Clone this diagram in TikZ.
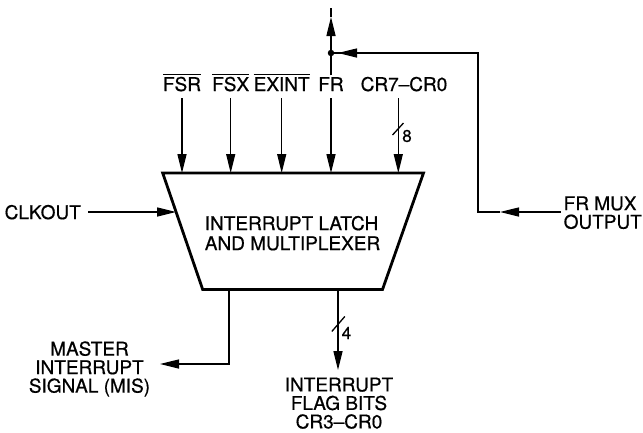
\documentclass[tikz,border=0pt]{standalone}
\usepackage{fontspec}
\setmainfont{TeX Gyre Heros}[FakeBold=0.6]
\usetikzlibrary{arrows.meta,calc}
\newcommand\ovl[1]{\vbox{\hrule height 1.2pt\kern1.8pt\hbox{#1}}}
\begin{document}
\begin{tikzpicture}[x=1pt,y=1pt,
  lbl/.style={inner sep=0pt, text depth=0pt, font=\fontsize{19}{18.5}\selectfont},
  num/.style={inner sep=0pt, font=\fontsize{17}{18}\selectfont},
  wire/.style={line width=1.3pt},
  arr/.style={wire, -{Triangle[length=19pt,width=9pt]}},
  box/.style={line width=2.8pt, line join=miter},
]
\useasboundingbox (0,0) rectangle (643,-432);
% block
\coordinate (tl) at (162.7,-173);
\coordinate (tr) at (423.5,-173);
\coordinate (br) at (382.5,-289.5);
\coordinate (bl) at (202.7,-289.5);
\draw[box] (tl) -- (tr) -- (br) -- (bl) -- cycle;
\node[lbl, align=left, font=\fontsize{19}{20}\selectfont] (core) at (292.5,-233) {INTERRUPT LATCH\\AND MULTIPLEXER};
% top inputs
\node[lbl, anchor=base] (fsr) at (182,-91) {\ovl{FSR}};
\node[lbl, anchor=base] (fsx) at (230.7,-91) {\ovl{FSX}};
\node[lbl, anchor=base] (exint) at (281.7,-91) {\ovl{EXINT}};
\node[lbl, anchor=base] (fr) at (331,-91) {FR};
\node[lbl, anchor=base] (cr) at (404,-91) {CR7–CR0};
\coordinate (incr) at (398.3,-173);
\draw[arr, shorten <=7pt] (fsr.south) -- (fsr.south |- tl);
\draw[arr, shorten <=7pt] (fsx.south) -- (fsx.south |- tl);
\draw[arr, shorten <=7pt] (exint.south) -- (exint.south |- tl);
\draw[arr, shorten <=7pt] (fr.south) -- (fr.south |- tl);
\draw[arr, shorten <=7pt] (incr |- cr.south) -- (incr);
\coordinate (s8) at (398,-129);
\draw[wire] ($(s8)+(-5.5,-6)$) -- ($(s8)+(5.5,6)$);
\node[num] (n8) at (407,-136) {8};
% FR output upward
\node[circle, fill, inner sep=0pt, minimum size=6.5pt] (dot) at (331,-53) {};
\coordinate (uptip) at (331,-17);
\coordinate (uptop) at (331,-8);
\draw[wire, shorten <=1.5pt] (fr.north) -- (dot);
\draw[arr] (dot) -- (uptip);
\draw[wire] (uptip) -- (uptop);
% FR MUX feedback
\node[lbl, align=left, anchor=west] (mux) at (563.5,-212.5) {FR MUX\\OUTPUT};
\coordinate (muxa) at (500,-212);
\coordinate (fbc2) at (478,-212);
\coordinate (fbc1) at (478,-53);
\coordinate (fba) at (338,-53);
\draw[arr, shorten <=3pt] (mux.west |- muxa) -- (muxa);
\draw[wire] (muxa) -- (fbc2) -- (fbc1) -- (dot.center);
\draw[arr] (fbc1) -- (fba);
% CLKOUT
\node[lbl, anchor=east] (clk) at (81,-212) {CLKOUT};
\coordinate (clkin) at ($(tl)!0.333!(bl)$);
\draw[arr, shorten <=7pt] (clk.east) -- (clk.east -| clkin);
% MIS
\coordinate (misout) at (229,-289.5);
\coordinate (mistip) at (160,-364);
\node[lbl, align=center] (mis) at (89.5,-367) {MASTER\\INTERRUPT\\SIGNAL (MIS)};
\draw[arr] (misout) |- (mistip);
% flag bits
\coordinate (flout) at (338,-289.5);
\coordinate (fltip) at (338,-370);
\draw[arr] (flout) -- (fltip);
\coordinate (s4) at (338.3,-324);
\draw[wire] ($(s4)+(-6.5,-7.5)$) -- ($(s4)+(6.5,7.5)$);
\node[num] (n4) at (346.5,-333) {4};
\node[lbl, align=center] (flag) at (339,-403) {INTERRUPT\\FLAG BITS\\CR3–CR0};
\end{tikzpicture}
\end{document}
